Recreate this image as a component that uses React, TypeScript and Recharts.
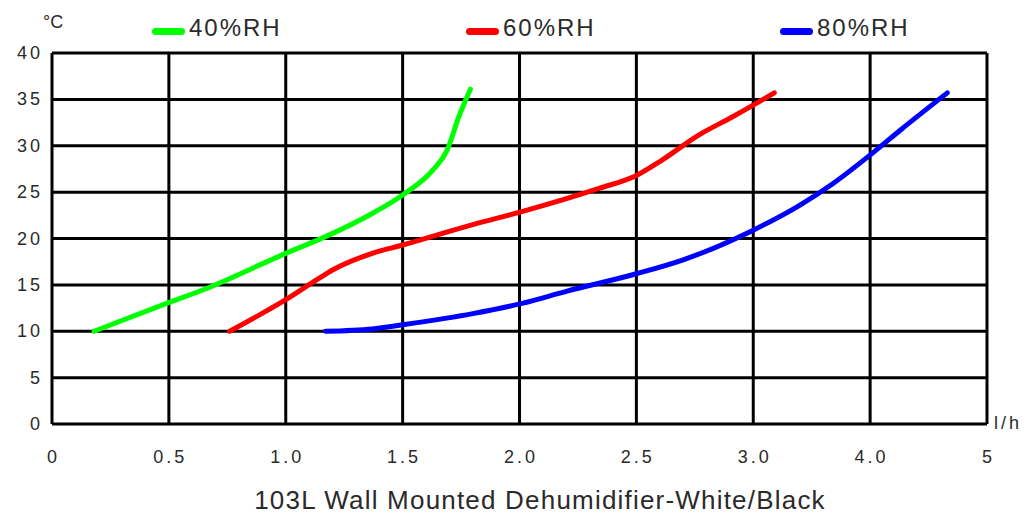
import React from "react";
import { LineChart, Line, XAxis, YAxis, CartesianGrid, Legend } from "recharts";

// x positions are in grid units of 0.5 per column (labels below are printed as in the original)
const X_TICKS = [0, 0.5, 1, 1.5, 2, 2.5, 3, 3.5, 4];
const X_TICK_LABELS = ["0", "0.5", "1.0", "1.5", "2.0", "2.5", "3.0", "4.0", "5"];
const Y_TICKS = [0, 5, 10, 15, 20, 25, 30, 35, 40];

const rh40Flow = [0.18, 0.49, 0.65, 1.0, 1.17, 1.37, 1.5, 1.63, 1.69, 1.74, 1.79];
const rh40Temp = [10, 13.0, 14.5, 18.4, 20.2, 22.7, 24.7, 27.4, 29.5, 33.1, 36.1];

const rh60Flow = [0.76, 1.0, 1.13, 1.2, 1.37, 1.5, 1.8, 2.01, 2.34, 2.5, 2.6, 2.77, 2.91, 3.09];
const rh60Temp = [10, 13.4, 15.5, 16.6, 18.4, 19.3, 21.5, 22.9, 25.4, 26.8, 28.3, 31.2, 33.1, 35.7];

const rh80Flow = [1.17, 1.37, 1.5, 1.8, 2.01, 2.2, 2.5, 2.7, 3.0, 3.2, 3.34, 3.51, 3.63, 3.83];
const rh80Temp = [10, 10.25, 10.7, 11.9, 13.0, 14.3, 16.2, 17.7, 20.9, 23.6, 25.9, 29.2, 31.7, 35.7];

const SERIES_NAMES = ["40%RH", "60%RH", "80%RH"];
const SERIES_COLORS = ["#00ff00", "#ff0000", "#0000ff"];

const toPoints = (xs: number[], ys: number[]) => xs.map((x, i) => ({ x, y: ys[i] }));
const seriesData = [
  toPoints(rh40Flow, rh40Temp),
  toPoints(rh60Flow, rh60Temp),
  toPoints(rh80Flow, rh80Temp),
];

const FONT = "'Liberation Sans', Arial, sans-serif";
const TEXT = "#2a2a2a";

const XTick = (props: any) => {
  const idx = X_TICKS.indexOf(props.payload.value);
  return (
    <text x={props.x} y={props.y} dx={1.5} dy={25} textAnchor="middle" dominantBaseline="central"
      fontFamily={FONT} fontSize={18} letterSpacing={3} fill={TEXT}>
      {X_TICK_LABELS[idx]}
    </text>
  );
};

const YTick = (props: any) => (
  <text x={props.x} y={props.y} dx={-1} textAnchor="end" dominantBaseline="central"
    fontFamily={FONT} fontSize={18} letterSpacing={3} fill={TEXT}>
    {props.payload.value}
  </text>
);

const LegendContent = (props: any) => (
  <div style={{ position: "relative", height: 0 }}>
    {(props.payload || []).map((p: any, i: number) => (
      <div key={p.value} style={{ position: "absolute", left: 152 + i * 314, top: 16, display: "flex", alignItems: "center", height: 30 }}>
        <div style={{ width: 33, height: 7, borderRadius: 4, background: p.color }} />
        <span style={{ marginLeft: 4, position: "relative", top: -3, fontFamily: FONT, fontSize: 24, letterSpacing: 2, color: TEXT, lineHeight: "28px" }}>{p.value}</span>
      </div>
    ))}
  </div>
);

export default function App() {
  return (
    <div style={{ position: "absolute", left: 0, top: 0, width: 1027, height: 516, background: "#fff" }}>
      <LineChart width={1027} height={516} margin={{ top: 53, right: 40, left: 0, bottom: 0 }}>
        <CartesianGrid stroke="#000" strokeWidth={3} fill="#fff" />
        <XAxis type="number" dataKey="x" domain={[0, 4]} ticks={X_TICKS} height={92}
          axisLine={false} tickLine={false} tick={<XTick />} interval={0} allowDuplicatedCategory={false} />
        <YAxis type="number" dataKey="y" domain={[0, 40]} ticks={Y_TICKS} width={52}
          axisLine={false} tickLine={false} tick={<YTick />} interval={0} />
        <Legend content={<LegendContent />} verticalAlign="top" wrapperStyle={{ position: "absolute", left: 0, top: 0, width: 1027, height: 0 }} />
        {seriesData.map((d, i) => (
          <Line key={SERIES_NAMES[i]} name={SERIES_NAMES[i]} data={d} dataKey="y" type="monotone"
            stroke={SERIES_COLORS[i]} strokeWidth={5} dot={false} strokeLinecap="round" isAnimationActive={false} />
        ))}
      </LineChart>
      <div style={{ position: "absolute", left: 43, top: 11, fontFamily: FONT, fontSize: 18, color: TEXT, lineHeight: "22px" }}>°C</div>
      <div style={{ position: "absolute", left: 994, top: 412, fontFamily: FONT, fontSize: 18, letterSpacing: 3, color: TEXT, lineHeight: "22px" }}>l/h</div>
      <div style={{ position: "absolute", left: 0, width: 1080, top: 485, textAlign: "center", fontFamily: FONT, fontSize: 26, letterSpacing: 1.2, color: TEXT, lineHeight: "30px" }}>
        103L Wall Mounted Dehumidifier-White/Black
      </div>
    </div>
  );
}
